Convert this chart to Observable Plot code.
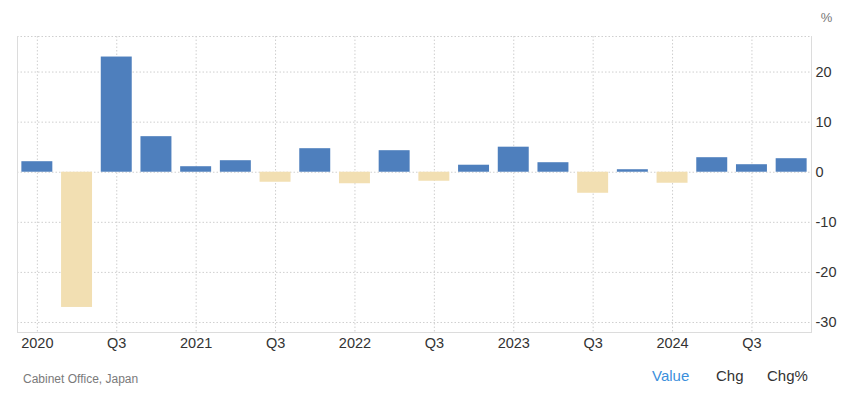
<!DOCTYPE html>
<html>
<head>
<meta charset="utf-8">
<script src="https://cdn.jsdelivr.net/npm/d3@7"></script>
<script src="https://cdn.jsdelivr.net/npm/@observablehq/plot@0.6"></script>
<style>
  html, body { margin: 0; padding: 0; background: #fff; }
  body { width: 844px; height: 394px; overflow: hidden; font-family: "Liberation Sans", Arial, sans-serif; }
  #chart svg { display: block; }
  #foot { position: relative; height: 42px; }
  #foot span { position: absolute; white-space: nowrap; }
  #src { left: 23px; top: 20px; font-size: 12px; color: #7a7a7a; }
  .btn { top: 15px; font-size: 15px; color: #333; }
</style>
</head>
<body>
<div id="chart"></div>
<div id="foot">
  <span id="src">Cabinet Office, Japan</span>
  <span class="btn" style="left:652px;color:#3b8fdc">Value</span>
  <span class="btn" style="left:716px">Chg</span>
  <span class="btn" style="left:767px">Chg%</span>
</div>
<script>
const quarters = [
  "2020 Q1","2020 Q2","2020 Q3","2020 Q4",
  "2021 Q1","2021 Q2","2021 Q3","2021 Q4",
  "2022 Q1","2022 Q2","2022 Q3","2022 Q4",
  "2023 Q1","2023 Q2","2023 Q3","2023 Q4",
  "2024 Q1","2024 Q2","2024 Q3","2024 Q4"
];
const values = [2.1, -27.0, 23.0, 7.1, 1.1, 2.3, -2.0, 4.7, -2.3, 4.3, -1.8, 1.4, 5.0, 1.9, -4.2, 0.5, -2.2, 2.9, 1.5, 2.7];
const xTicks = ["2020 Q1","2020 Q3","2021 Q1","2021 Q3","2022 Q1","2022 Q3","2023 Q1","2023 Q3","2024 Q1","2024 Q3"];
const xTickLabels = ["2020","Q3","2021","Q3","2022","Q3","2023","Q3","2024","Q3"];
const yTicks = [-30, -20, -10, 0, 10, 20];
const yDomain = [-32, 27.1];

const data = quarters.map((q, i) => ({q, v: values[i], sign: values[i] >= 0 ? "pos" : "neg"}));
const labelOf = new Map(xTicks.map((t, i) => [t, xTickLabels[i]]));

const chart = Plot.plot({
  width: 844,
  height: 352,
  marginTop: 36,
  marginBottom: 20,
  marginLeft: 17,
  marginRight: 33,
  style: {fontFamily: "'Liberation Sans', Arial, sans-serif", background: "#fff"},
  x: {type: "band", domain: quarters, paddingInner: 0.22, paddingOuter: 0.11, round: false, axis: null},
  y: {domain: yDomain, axis: null},
  color: {domain: ["pos", "neg"], range: ["#4e7fbd", "#f2dfb2"]},
  marks: [
    Plot.gridY(yTicks, {stroke: "#cfcfcf", strokeOpacity: 1, strokeDasharray: "1.5,2"}),
    Plot.ruleY([yDomain[1]], {stroke: "#cfcfcf", strokeDasharray: "1.5,2"}),
    Plot.gridX(xTicks, {stroke: "#cfcfcf", strokeOpacity: 1, strokeDasharray: "1.5,2"}),
    Plot.barY(data, {x: "q", y: "v", fill: "sign"}),
    Plot.frame({anchor: "left", stroke: "#dcdcdc"}),
    Plot.frame({anchor: "right", stroke: "#dcdcdc"}),
    Plot.frame({anchor: "bottom", stroke: "#dcdcdc"}),
    Plot.axisX(xTicks, {anchor: "bottom", tickSize: 0, tickPadding: 5, fontSize: 14.5, fill: "#333", tickFormat: d => labelOf.get(d), label: null}),
    Plot.axisY(yTicks, {anchor: "right", tickSize: 0, tickPadding: 4, fontSize: 14.5, fill: "#333", tickFormat: d => String(d), label: null}),
    Plot.text(["%"], {frameAnchor: "top-right", dx: 15, dy: -15, textAnchor: "middle", lineAnchor: "bottom", fontSize: 13, fill: "#777"})
  ]
});
document.getElementById("chart").appendChild(chart);
</script>
</body>
</html>
